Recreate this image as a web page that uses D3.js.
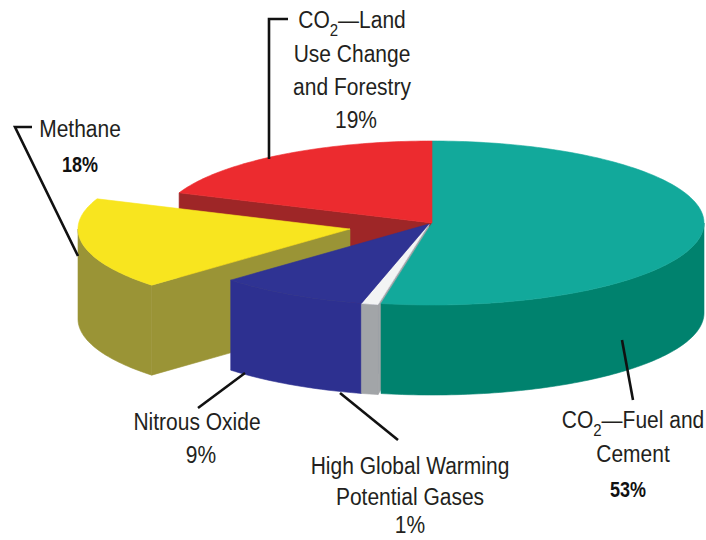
<!DOCTYPE html>
<html><head><meta charset="utf-8">
<script src="https://cdn.jsdelivr.net/npm/d3@7"></script>
<style>body{margin:0;background:#fff} svg{display:block}</style>
</head><body>
<script>
// ---- data ----
const categories = ["CO2—Fuel and Cement", "High Global Warming Potential Gases", "Nitrous Oxide", "Methane", "CO2—Land Use Change and Forestry"];
const values = [53, 1, 9, 18, 19];
const percentLabels = ["53%", "1%", "9%", "18%", "19%"];
const labelLines = [
  [[{t:"CO"},{sub:"2"},{t:"—Fuel and"}], [{t:"Cement"}]],
  [[{t:"High Global Warming"}], [{t:"Potential Gases"}]],
  [[{t:"Nitrous Oxide"}]],
  [[{t:"Methane"}]],
  [[{t:"CO"},{sub:"2"},{t:"—Land"}], [{t:"Use Change"}], [{t:"and Forestry"}]]
];
const boldPercent = [true, false, false, true, false];

// ---- styles / layout ----
const W = 706, H = 540;
const cx = 432, cy = 223, rx = 272, ry = 82, depth = 90;
const topColors  = ["#12a99b", "#f3f4f4", "#2f3393", "#f8e51f", "#ec2b2f"];
const sideColors = ["#00826e", "#a2a5a8", "#2d3090", "#9a9436", "#9e2627"];
const offsets = [[0,0], [-3,1], [-3,1], [-82,6], [0,0]];
// label anchor: [centerX, firstBaseline, lineStep, percentBaseline, percentX]
const labelPos = [
  [633, 428, 34, 497, 628],
  [410, 474, 30.5, 533, 410],
  [197, 430, 33, 463, 201],
  [80, 137, 34, 172, 80],
  [352, 28, 33.5, 128, 356]
];
const leaders = [
  [[622,340],[633,400]],
  [[340,393],[398,440]],
  [[245,373],[198,408]],
  [[32,127],[15,127],[78,256]],
  [[288,19],[269,19],[269,159]]
];

const svg = d3.select("body").append("svg").attr("width", W).attr("height", H);

const xs = d3.scaleLinear().domain([-1,1]).range([cx-rx, cx+rx]);
const ys = d3.scaleLinear().domain([-1,1]).range([cy-ry, cy+ry]);
function P(a, r, off, z){ return [xs(r*Math.sin(a)) + off[0], ys(-r*Math.cos(a)) + off[1] + z]; }
function arcPts(a0, a1, off, z){
  const n = Math.max(2, Math.ceil(Math.abs(a1-a0)/0.02));
  return d3.range(n+1).map(k => P(a0 + (a1-a0)*k/n, 1, off, z));
}

const arcs = d3.pie().sort(null).value(d => d)(values);
const faces = [];
arcs.forEach((d, i) => {
  const off = offsets[i], a0 = d.startAngle, a1 = d.endAngle;
  const lo = Math.max(a0, Math.PI/2), hi = Math.min(a1, 3*Math.PI/2);
  if (hi > lo) {
    const top = arcPts(lo, hi, off, 0);
    faces.push({pts: top.concat(arcPts(hi, lo, off, depth)), fill: sideColors[i], key: d3.mean(top, p => p[1]) + 20});
  }
  [[a0, a0 - Math.PI/2], [a1, a1 + Math.PI/2]].forEach(([a, nrm]) => {
    if (Math.cos(nrm) < -1e-6) {
      const c = P(0, 0, off, 0), r = P(a, 1, off, 0);
      faces.push({pts: [c, r, [r[0], r[1]+depth], [c[0], c[1]+depth]], fill: sideColors[i], key: (c[1]+r[1])/2});
    }
  });
});
faces.sort((a, b) => a.key - b.key);
const line = d3.line();
svg.append("g").selectAll("path").data(faces).join("path")
  .attr("d", f => line(f.pts) + "Z")
  .attr("fill", f => f.fill).attr("stroke", f => f.fill).attr("stroke-width", 0.6);

svg.append("g").selectAll("path").data(arcs).join("path")
  .attr("d", (d, i) => line([P(0,0,offsets[i],0)].concat(arcPts(d.startAngle, d.endAngle, offsets[i], 0))) + "Z")
  .attr("fill", (d, i) => topColors[i]).attr("stroke", (d, i) => topColors[i]).attr("stroke-width", 0.6);

svg.append("g").selectAll("path").data(leaders).join("path")
  .attr("d", d => line(d)).attr("fill", "none").attr("stroke", "#111").attr("stroke-width", 2.6);

// labels
const font = "'Liberation Sans', Arial, sans-serif";
const lg = svg.append("g").attr("fill", "#231f20").style("font-family", font).style("font-size", "21px");
categories.forEach((c, i) => {
  const [x, y0, step, py, px] = labelPos[i];
  labelLines[i].forEach((parts, li) => {
    const t = lg.append("text").attr("transform", `translate(${x},${y0 + li*step}) scale(1,1.12)`).attr("text-anchor", "middle");
    let shifted = false;
    parts.forEach(p => {
      if (p.sub) { t.append("tspan").attr("dy", 7).style("font-size", "15px").text(p.sub); shifted = true; }
      else { const s = t.append("tspan").text(p.t); if (shifted) { s.attr("dy", -7); shifted = false; } }
    });
  });
  const pt = lg.append("text").attr("text-anchor", "middle").text(percentLabels[i]);
  if (boldPercent[i]) pt.attr("transform", `translate(${px},${py}) scale(1,1.22)`).style("font-weight", "bold").style("font-size", "18px").attr("fill", "#111");
  else pt.attr("transform", `translate(${px},${py}) scale(1,1.12)`);
});
</script>
</body></html>
